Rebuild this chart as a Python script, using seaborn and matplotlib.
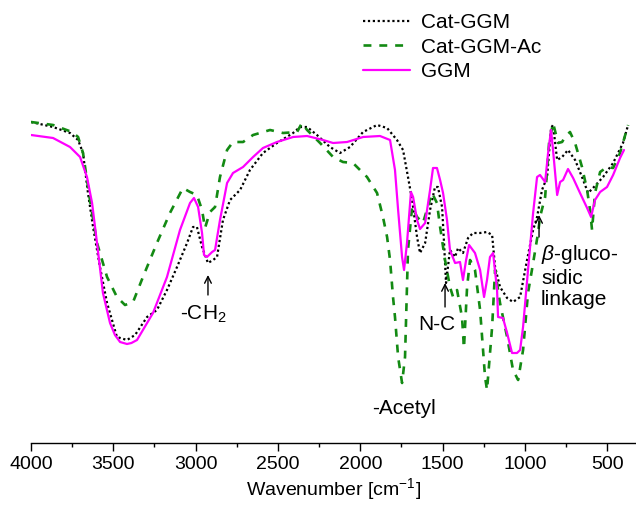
import matplotlib
matplotlib.use("Agg")
import matplotlib.pyplot as plt
import seaborn as sns
import pandas as pd
from matplotlib.ticker import MultipleLocator

# ---- data (T in arbitrary transmittance units) ----
ggm_wn = [4000, 3866, 3763, 3702, 3660, 3629, 3599, 3563, 3520, 3490, 3459, 3417, 3390, 3356, 3259, 3174,
          3095, 3034, 3010, 2985, 2961, 2949, 2931, 2900, 2882, 2852, 2809, 2773, 2712, 2651,
          2591, 2506, 2408, 2323, 2226, 2165, 2080, 1983, 1880, 1819, 1789, 1770, 1746, 1734,
          1716, 1692, 1679, 1655, 1637, 1606, 1576, 1558, 1534, 1515, 1497, 1473, 1455, 1424,
          1394, 1376, 1357, 1339, 1303, 1272, 1248, 1230, 1212, 1193, 1169, 1163, 1133, 1108,
          1078, 1048, 1029, 1011, 981, 950, 926, 908, 877, 859, 841, 829, 804, 786, 768, 738,
          707, 665, 622, 598, 574, 543, 501, 464, 422, 398]
ggm_t = [315, 312, 303, 293, 273, 247, 207, 157, 127, 115, 108, 106, 107, 110, 137, 173,
         220, 247, 252, 243, 217, 195, 193, 198, 200, 230, 267, 277, 283, 293,
         302, 308, 313, 314, 310, 307, 308, 313, 314, 310, 280, 240, 193, 180,
         207, 258, 253, 230, 221, 227, 260, 282, 282, 270, 257, 230, 200, 187,
         188, 170, 190, 205, 197, 180, 153, 170, 193, 197, 160, 133, 132, 117,
         97, 97, 100, 123, 180, 237, 273, 275, 268, 297, 320, 300, 255, 268, 270, 281,
         272, 257, 242, 233, 250, 258, 263, 275, 292, 300]

cat_wn = [4000, 3866, 3763, 3714, 3684, 3654, 3623, 3581, 3538, 3478, 3417, 3368, 3295, 3235,
          3174, 3113, 3052, 3016, 2992, 2961, 2925, 2894, 2870, 2834, 2791, 2730, 2670, 2591,
          2506, 2408, 2366, 2323, 2263, 2184, 2123, 2062, 1983, 1898, 1837, 1777, 1740, 1710,
          1685, 1655, 1637, 1606, 1576, 1546, 1528, 1503, 1491, 1479, 1455, 1424, 1406, 1376,
          1345, 1315, 1272, 1230, 1199, 1181, 1151, 1108, 1072, 1029, 987, 950, 926, 896,
          865, 841, 829, 804, 774, 738, 695, 653, 616, 586, 525, 464, 404, 373]
cat_t = [328, 323, 317, 310, 297, 257, 223, 183, 147, 113, 110, 115, 133, 140,
         160, 183, 207, 223, 223, 203, 187, 190, 193, 230, 250, 260, 280, 297,
         307, 317, 323, 323, 315, 303, 297, 303, 318, 325, 322, 310, 300, 273,
         250, 213, 197, 207, 240, 263, 263, 243, 207, 167, 200, 193, 202, 197,
         212, 217, 217, 218, 215, 183, 163, 152, 148, 153, 190, 220, 233, 260,
         273, 322, 325, 290, 293, 300, 290, 273, 257, 262, 273, 287, 307, 325]

ac_wn = [4000, 3866, 3751, 3714, 3684, 3642, 3599, 3538, 3478, 3429, 3380, 3320, 3235, 3156,
         3077, 3034, 2992, 2961, 2943, 2913, 2882, 2852, 2809, 2773, 2712, 2651, 2548, 2469,
         2384, 2354, 2323, 2244, 2165, 2105, 2044, 1959, 1898, 1862, 1837, 1819, 1801, 1789,
         1770, 1746, 1728, 1710, 1685, 1655, 1619, 1564, 1534, 1515, 1485, 1455, 1436, 1412,
         1382, 1370, 1351, 1333, 1303, 1272, 1242, 1230, 1199, 1181, 1151, 1108, 1072, 1041,
         1011, 981, 950, 920, 908, 877, 853, 829, 798, 774, 756, 726, 695, 653, 622, 604,
         592, 574, 543, 501, 464, 422, 373]
ac_t = [328, 325, 318, 313, 297, 250, 207, 173, 153, 145, 148, 173, 207, 237,
        262, 258, 255, 240, 222, 238, 243, 273, 300, 308, 308, 315, 320, 317,
        318, 327, 320, 307, 293, 288, 287, 273, 257, 233, 213, 190, 153, 133,
        93, 67, 93, 200, 243, 233, 227, 257, 247, 223, 190, 163, 153, 160,
        133, 102, 163, 190, 180, 140, 73, 60, 123, 180, 147, 113, 80, 70,
        100, 157, 187, 217, 233, 253, 307, 327, 307, 308, 313, 318, 307, 283, 260, 240,
        220, 257, 278, 283, 282, 297, 325]

series_names = ["Cat-GGM", "Cat-GGM-Ac", "GGM"]

sns.set_theme(style="white")
plt.rcParams["font.family"] = ["Liberation Sans", "DejaVu Sans"]
plt.rcParams["mathtext.fontset"] = "custom"
plt.rcParams["mathtext.rm"] = "Liberation Sans"
plt.rcParams["mathtext.it"] = "Liberation Sans:italic"
plt.rcParams["text.color"] = "black"
plt.rcParams["axes.labelcolor"] = "black"
plt.rcParams["xtick.color"] = "black"

fig = plt.figure(figsize=(6.36, 5.09), dpi=100)
ax = fig.add_axes([31 / 636, 66 / 509, 1 - 31 / 636, 443 / 509])

df_cat = pd.DataFrame({"wn": cat_wn, "T": cat_t})
df_ac = pd.DataFrame({"wn": ac_wn, "T": ac_t})
df_ggm = pd.DataFrame({"wn": ggm_wn, "T": ggm_t})

sns.lineplot(data=df_cat, x="wn", y="T", ax=ax, color="black", linestyle=(0, (1, 1.2)),
             linewidth=1.6, estimator=None, sort=False, label=series_names[0])
sns.lineplot(data=df_ac, x="wn", y="T", ax=ax, color="#138a13", linestyle=(0, (3, 3)),
             linewidth=1.9, estimator=None, sort=False, label=series_names[1])
sns.lineplot(data=df_ggm, x="wn", y="T", ax=ax, color="#ff00ff", linestyle="-",
             linewidth=1.6, estimator=None, sort=False, label=series_names[2])

ax.set_xlim(4000, 325)
ax.set_ylim(7, 450)
for s in ["left", "right", "top"]:
    ax.spines[s].set_visible(False)
ax.spines["bottom"].set_color("black")
ax.spines["bottom"].set_linewidth(1.0)
ax.set_yticks([])
ax.set_ylabel("")
ax.xaxis.set_major_locator(MultipleLocator(500))
ax.xaxis.set_minor_locator(MultipleLocator(250))
ax.tick_params(axis="x", which="major", direction="out", length=5.8, width=1.0,
               labelsize=14, pad=3.5, bottom=True, colors="black")
ax.tick_params(axis="x", which="minor", direction="out", length=2.9, width=1.0, bottom=True)
ax.set_xlabel(r"Wavenumber [cm$^{-1}$]", fontsize=14, labelpad=2)

leg = ax.legend(loc="upper left", bbox_to_anchor=(363 / 636, 1 - 13 / 509),
                bbox_transform=fig.transFigure, frameon=False, fontsize=15,
                handlelength=2.25, handletextpad=0.55, labelspacing=0.27, borderpad=0,
                borderaxespad=0)

ap = dict(arrowstyle="->", color="black", lw=1.0, shrinkA=0, shrinkB=0)
ax.annotate("", xy=(2925, 175), xytext=(2925, 155), arrowprops=ap)
ax.text(2955, 136, "-CH$_2$", fontsize=15, ha="center", va="center")
ax.text(1734, 42, "-Acetyl", fontsize=15, ha="center", va="center")
ax.annotate("", xy=(1485, 167), xytext=(1485, 143), arrowprops=ap)
ax.text(1534, 125, "N-C", fontsize=15, ha="center", va="center")
ax.annotate("", xy=(914, 235), xytext=(914, 213), arrowprops=ap)
ax.text(902, 207, "$\\beta$-gluco-\nsidic\nlinkage", fontsize=15, ha="left", va="top",
        linespacing=1.18)

fig.savefig("out.png", dpi=100)
